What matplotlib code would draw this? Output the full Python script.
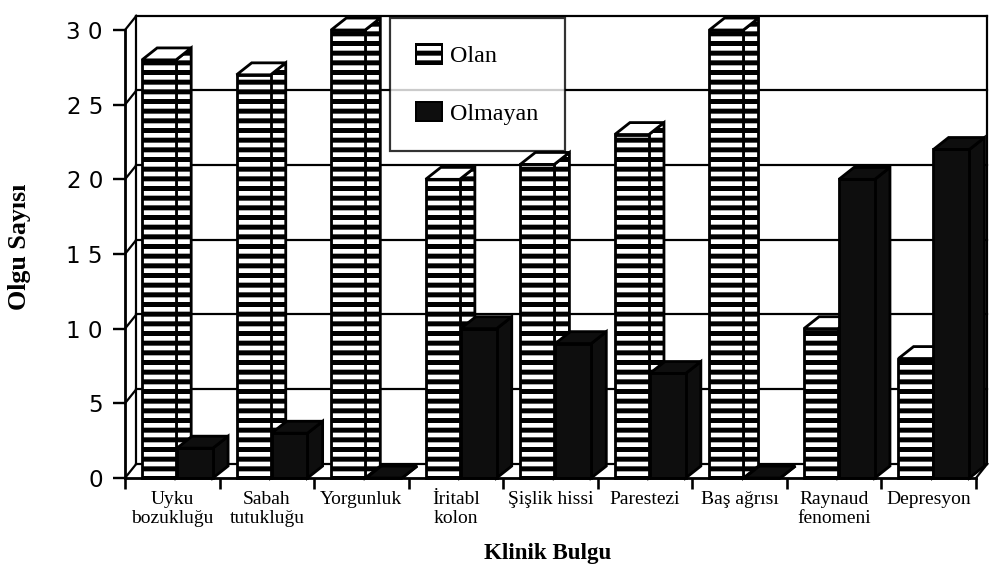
import matplotlib
matplotlib.use("Agg")
import matplotlib.pyplot as plt
from matplotlib.patches import Polygon, Patch
import numpy as np

# data
kategoriler = ["Uyku\nbozukluğu", "Sabah\ntutukluğu", "Yorgunluk", "İritabl\nkolon",
               "Şişlik hissi", "Parestezi", "Baş ağrısı", "Raynaud\nfenomeni", "Depresyon"]
olan = [28, 27, 30, 20, 21, 23, 30, 10, 8]
olmayan = [2, 3, 0, 10, 9, 7, 0, 20, 22]
yticks = [0, 5, 10, 15, 20, 25, 30]
ytick_labels = [" ".join(str(v)) for v in yticks]

DPI = 116
P = 72 / DPI  # px -> pt

plt.rcParams['hatch.linewidth'] = 5.0 * P
plt.rcParams['hatch.color'] = 'black'
serif = ['Liberation Serif', 'DejaVu Serif']

fig = plt.figure(figsize=(991 / DPI, 582 / DPI), dpi=DPI)
ax = fig.add_axes([125 / 991, 1 - 478 / 582, 851 / 991, 448 / 582])
ax.set_xlim(0, 9)
ax.set_ylim(0, 30)

# 3d offsets
dx, dy = 0.16, 0.8      # bar depth
wx, wy = 0.12, 0.95     # back wall offset

# back wall
lw_wall = 2.2 * P
ax.plot([wx, wx], [wy, 30 + wy], color='black', lw=lw_wall, clip_on=False, zorder=1)
ax.plot([9 + wx, 9 + wx], [wy, 30 + wy], color='black', lw=lw_wall, clip_on=False, zorder=1)
for v in yticks:
    ax.plot([wx, 9 + wx], [v + wy, v + wy], color='black', lw=lw_wall, clip_on=False, zorder=1)
    ax.plot([0, wx], [v, v + wy], color='black', lw=lw_wall, clip_on=False, zorder=1)
ax.plot([9, 9 + wx], [0, wy], color='black', lw=lw_wall, clip_on=False, zorder=1)


def bar3d(x0, w, h, face, hatch, z):
    kw = dict(edgecolor='black', lw=2.8 * P, clip_on=False, zorder=z, joinstyle='miter')
    front = Polygon([(x0, 0), (x0 + w, 0), (x0 + w, h), (x0, h)], closed=True,
                    facecolor=face, hatch=hatch, **kw)
    side = Polygon([(x0 + w, 0), (x0 + w + dx, dy), (x0 + w + dx, h + dy), (x0 + w, h)],
                   closed=True, facecolor=face, hatch=hatch, **kw)
    top = Polygon([(x0, h), (x0 + dx, h + dy), (x0 + w + dx, h + dy), (x0 + w, h)],
                  closed=True, facecolor=face, **kw)
    for p in (side, front, top):
        ax.add_patch(p)


bw = 0.36
for i in range(len(kategoriler)):
    bar3d(i + 0.18, bw, olan[i], 'white', '--', 2 + i * 2)
    bar3d(i + 0.18 + bw + 0.01, bw + 0.02, olmayan[i], '#0e0e0e', None, 3 + i * 2)

# axes
for s in ['top', 'right']:
    ax.spines[s].set_visible(False)
for s in ['left', 'bottom']:
    ax.spines[s].set_linewidth(2.8 * P)
    ax.spines[s].set_zorder(40)
ax.set_yticks(yticks)
ax.set_yticklabels(ytick_labels, family=['DejaVu Sans'], fontsize=23 * P)
ax.tick_params(axis='y', length=12 * P, width=2.4 * P, pad=10 * P)
ax.set_xticks(np.arange(0, 10))
ax.set_xticklabels([])
ax.tick_params(axis='x', length=11 * P, width=2.6 * P)

for i, lab in enumerate(kategoriler):
    ax.text(i + 0.5, -13 / 448, lab, transform=ax.get_xaxis_transform(), ha='center', va='top',
            family=serif, fontsize=19.5 * P, linespacing=1.15)

fig.text(20 / 991, 1 - 247 / 582, "Olgu Sayısı", rotation=90, ha='center', va='center',
         family=serif, fontweight='bold', fontsize=26 * P)
fig.text(548 / 991, 1 - 553 / 582, "Klinik Bulgu", ha='center', va='center',
         family=serif, fontweight='bold', fontsize=23 * P)

handles = [Patch(facecolor='white', edgecolor='black', hatch='--', lw=2 * P),
           Patch(facecolor='#0e0e0e', edgecolor='black', lw=2 * P)]
leg = ax.legend(handles, ["Olan", "Olmayan"], loc='upper left',
                bbox_to_anchor=(390 / 991, 1 - 18 / 582), bbox_transform=fig.transFigure,
                prop={'family': serif, 'size': 24 * P}, frameon=True, fancybox=False,
                borderpad=1.1, labelspacing=1.45, handlelength=1.05, handleheight=0.85,
                handletextpad=0.35, borderaxespad=0)
leg.get_frame().set_edgecolor('black')
leg.get_frame().set_linewidth(2.2 * P)
leg.set_zorder(50)

fig.savefig("out.png", dpi=DPI)
